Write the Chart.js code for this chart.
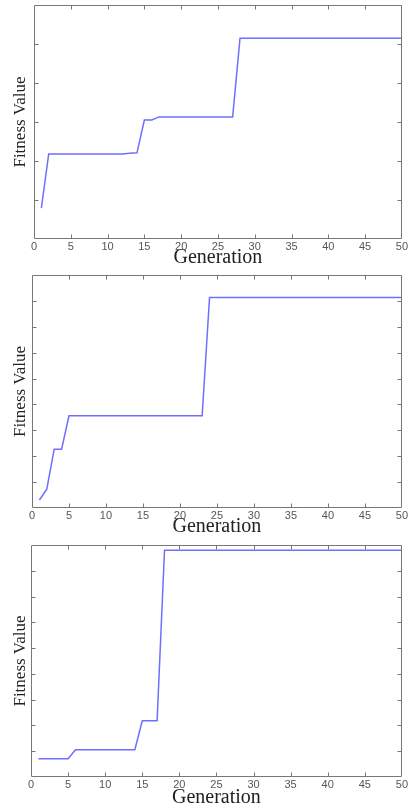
<!DOCTYPE html>
<html>
<head>
<meta charset="utf-8">
<script src="https://cdn.jsdelivr.net/npm/chart.js@4/dist/chart.umd.min.js"></script>
<style>
    html, body { margin: 0; padding: 0; background: #fff; overflow: hidden; width: 409px; height: 806px; }
    .panel { position: absolute; left: 0; }
</style>
</head>
<body>
<div class="panel" style="top:0px"><canvas id="chart1" width="409" height="270"></canvas></div>
<div class="panel" style="top:268px"><canvas id="chart2" width="409" height="271"></canvas></div>
<div class="panel" style="top:535px"><canvas id="chart3" width="409" height="275"></canvas></div>
<script>
const generations = [1, 2, 3, 4, 5, 6, 7, 8, 9, 10, 11, 12, 13, 14, 15, 16, 17, 18, 19, 20,
    21, 22, 23, 24, 25, 26, 27, 28, 29, 30, 31, 32, 33, 34, 35, 36, 37, 38, 39, 40,
    41, 42, 43, 44, 45, 46, 47, 48, 49, 50]

// fitness per generation, read off the three runs (arbitrary units, no y labels)
const fitness1 = [0.79, 2.18, 2.18, 2.18, 2.18, 2.18, 2.18, 2.18, 2.18, 2.18,
    2.18, 2.18, 2.2, 2.21, 3.05, 3.05, 3.13, 3.13, 3.13, 3.13,
    3.13, 3.13, 3.13, 3.13, 3.13, 3.13, 3.13, 5.15, 5.15, 5.15,
    5.15, 5.15, 5.15, 5.15, 5.15, 5.15, 5.15, 5.15, 5.15, 5.15,
    5.15, 5.15, 5.15, 5.15, 5.15, 5.15, 5.15, 5.15, 5.15, 5.15]
const fitness2 = [0.31, 0.73, 2.27, 2.27, 3.56, 3.56, 3.56, 3.56, 3.56, 3.56,
    3.56, 3.56, 3.56, 3.56, 3.56, 3.56, 3.56, 3.56, 3.56, 3.56,
    3.56, 3.56, 3.56, 8.13, 8.13, 8.13, 8.13, 8.13, 8.13, 8.13,
    8.13, 8.13, 8.13, 8.13, 8.13, 8.13, 8.13, 8.13, 8.13, 8.13,
    8.13, 8.13, 8.13, 8.13, 8.13, 8.13, 8.13, 8.13, 8.13, 8.13]
const fitness3 = [0.71, 0.71, 0.71, 0.71, 0.71, 1.06, 1.06, 1.06, 1.06, 1.06,
    1.06, 1.06, 1.06, 1.06, 2.18, 2.18, 2.18, 8.8, 8.8, 8.8,
    8.8, 8.8, 8.8, 8.8, 8.8, 8.8, 8.8, 8.8, 8.8, 8.8,
    8.8, 8.8, 8.8, 8.8, 8.8, 8.8, 8.8, 8.8, 8.8, 8.8,
    8.8, 8.8, 8.8, 8.8, 8.8, 8.8, 8.8, 8.8, 8.8, 8.8]

const xMin = 0
const xMax = 50
const xStep = 5
const yTop1 = 6
const yTop2 = 9
const yTop3 = 9

const lineColor = '#6f6fff'
const boxColor = '#777'

// matlab style box with inward ticks on all four sides
const boxTicks = {
    id: 'boxTicks',
    afterDraw: chart => {
        const ctx = chart.ctx
        const area = chart.chartArea
        const xs = chart.scales.x
        const ys = chart.scales.y
        const len = 4
        const l = Math.round(area.left) + 0.5
        const r = Math.round(area.right) - 0.5
        const t = Math.round(area.top) + 0.5
        const b = Math.round(area.bottom) - 0.5

        ctx.save()
        ctx.strokeStyle = boxColor
        ctx.lineWidth = 1
        ctx.beginPath()
        ctx.rect(l, t, r - l, b - t)
        xs.ticks.forEach(tick => {
            if (tick.value == xs.min || tick.value == xs.max)
                return
            let px = Math.round(xs.getPixelForValue(tick.value)) + 0.5
            ctx.moveTo(px, b)
            ctx.lineTo(px, b - len)
            ctx.moveTo(px, t)
            ctx.lineTo(px, t + len)
        })
        ys.ticks.forEach(tick => {
            if (tick.value == ys.min || tick.value == ys.max)
                return
            let py = Math.round(ys.getPixelForValue(tick.value)) + 0.5
            ctx.moveTo(l, py)
            ctx.lineTo(l + len, py)
            ctx.moveTo(r, py)
            ctx.lineTo(r - len, py)
        })
        ctx.stroke()
        ctx.restore()
    }
}

const makeChart = (id, values, yTop, pad, yWidth, xHeight) => {
    const ctx = document.getElementById(id)

    return new Chart(ctx, {
        type: 'line',
        data: {
            datasets: [{
                data: generations.map((g, i) => ({ x: g, y: values[i] })),
                borderColor: lineColor,
                borderWidth: 1.5,
                pointRadius: 0,
                tension: 0,
                fill: false
            }]
        },
        options: {
            responsive: false,
            animation: false,
            devicePixelRatio: 1,
            layout: { padding: pad },
            plugins: {
                legend: { display: false },
                tooltip: { enabled: false }
            },
            scales: {
                x: {
                    type: 'linear',
                    min: xMin,
                    max: xMax,
                    grid: { display: false, drawTicks: false },
                    border: { display: false },
                    ticks: {
                        stepSize: xStep,
                        padding: 1,
                        maxRotation: 0,
                        autoSkip: false,
                        color: '#555',
                        font: { family: 'Liberation Sans', size: 11 }
                    },
                    title: {
                        display: true,
                        text: 'Generation',
                        color: '#222',
                        padding: 0,
                        font: { family: 'Liberation Serif', size: 20, lineHeight: 1.2 }
                    },
                    afterFit: scale => { scale.height = xHeight }
                },
                y: {
                    min: 0,
                    max: yTop,
                    grid: { display: false, drawTicks: false },
                    border: { display: false },
                    ticks: { stepSize: 1, display: false },
                    title: {
                        display: true,
                        text: 'Fitness Value',
                        color: '#222',
                        padding: { top: 10, bottom: 0 },
                        font: { family: 'Liberation Serif', size: 17, lineHeight: 1.2 }
                    },
                    afterFit: scale => { scale.width = yWidth }
                }
            }
        },
        plugins: [boxTicks]
    })
}

makeChart('chart1', fitness1, yTop1, { top: 5, right: 3, left: 0, bottom: 0 }, 34, 31)
makeChart('chart2', fitness2, yTop2, { top: 7, right: 4, left: 0, bottom: 0 }, 32, 31)
makeChart('chart3', fitness3, yTop3, { top: 10, right: 5, left: 0, bottom: 0 }, 31, 33)
</script>
</body>
</html>
